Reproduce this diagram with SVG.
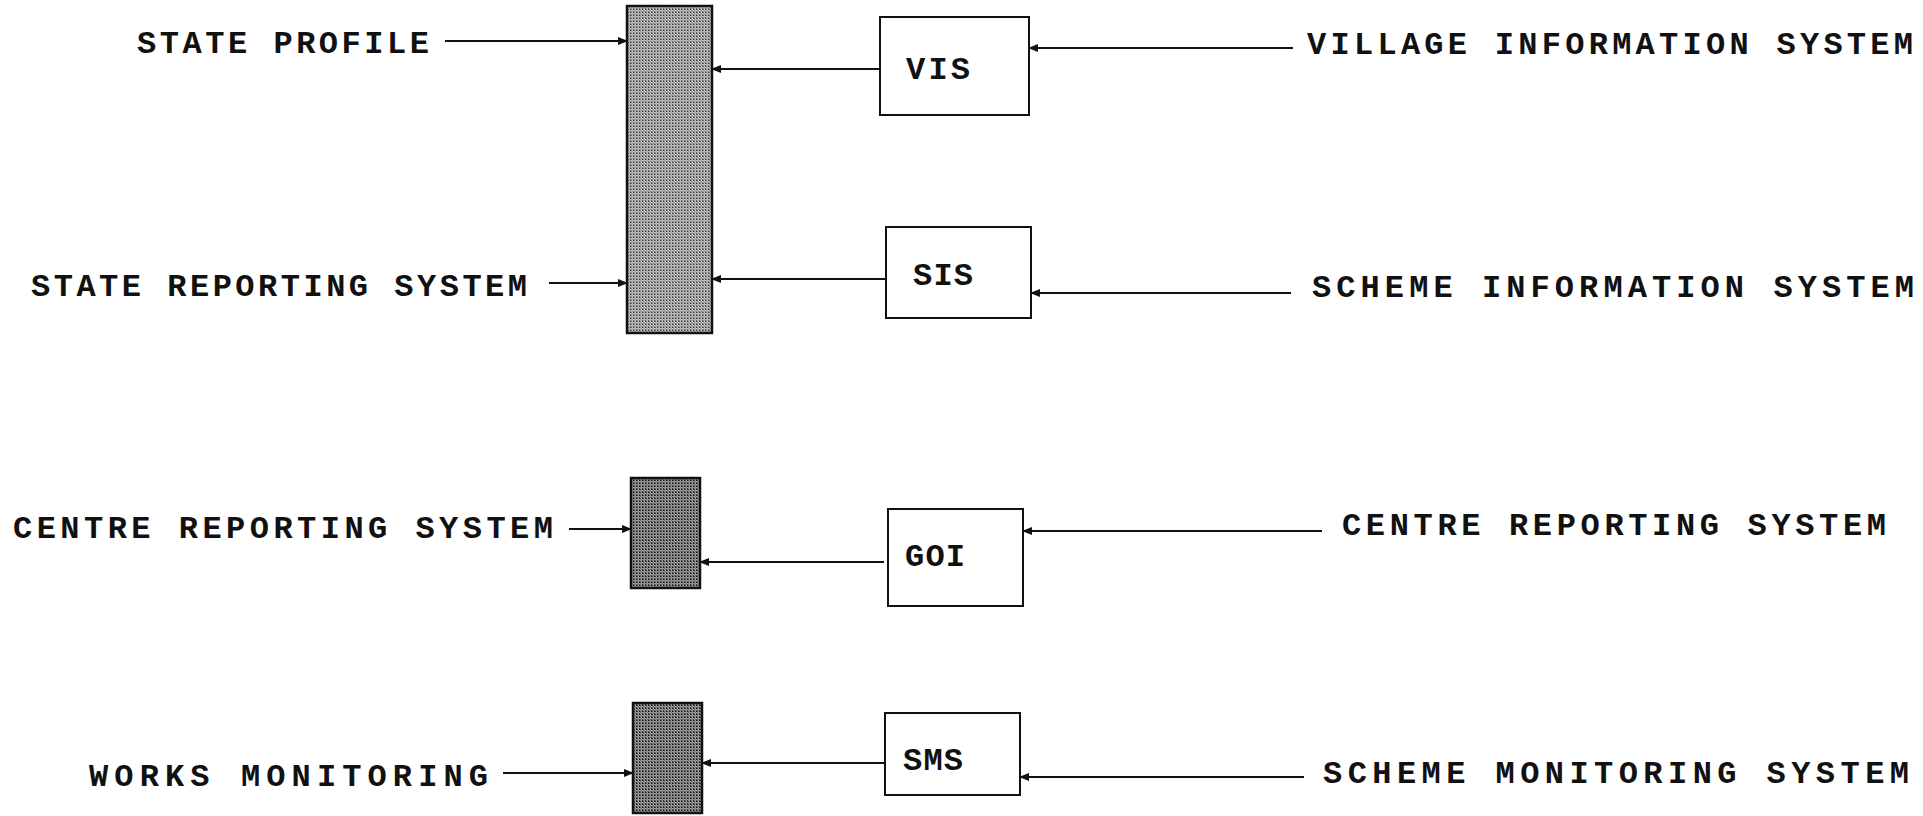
<svg xmlns="http://www.w3.org/2000/svg" width="1923" height="816" viewBox="0 0 1923 816">
<style>
.lbl{font-family:"Liberation Mono","Courier New",monospace;font-weight:bold;font-size:32px;fill:#111}
.blbl{font-family:"Liberation Mono","Courier New",monospace;font-weight:bold;font-size:32px;fill:#111}
.box{fill:#fff;stroke:#111;stroke-width:2}
.bar{stroke:#111;stroke-width:2.5}
.con line{stroke:#111;stroke-width:2}
</style>
<defs>
<pattern id="dotsL" width="3" height="3" patternUnits="userSpaceOnUse">
<rect width="3" height="3" fill="#d0d0d0"/>
<rect x="0" y="0" width="1" height="1" fill="#333"/>
<rect x="1.5" y="1.5" width="1" height="1" fill="#333"/>
<rect x="1" y="0" width="1" height="1" fill="#777"/>
<rect x="0" y="2" width="1" height="1" fill="#777"/>
</pattern>
<pattern id="dotsD" width="3" height="3" patternUnits="userSpaceOnUse">
<rect width="3" height="3" fill="#aaa"/>
<rect x="0" y="0" width="1" height="1" fill="#111"/>
<rect x="1.5" y="1.5" width="1" height="1" fill="#111"/>
<rect x="1" y="0" width="1" height="1" fill="#444"/>
<rect x="0" y="2" width="1" height="1" fill="#444"/>
</pattern>
<marker id="ah" markerWidth="10" markerHeight="8" refX="9" refY="4" orient="auto" markerUnits="userSpaceOnUse">
<path d="M0,0 L10,4 L0,8 Z" fill="#111"/>
</marker>
</defs>

<g id="bar-state"><rect class="bar" x="627" y="6" width="85" height="327" fill="url(#dotsL)"/></g>
<g id="bar-centre"><rect class="bar" x="631" y="478" width="69" height="110" fill="url(#dotsD)"/></g>
<g id="bar-works"><rect class="bar" x="633" y="703" width="69" height="110" fill="url(#dotsD)"/></g>

<g id="node-vis"><rect class="box" x="880" y="17" width="149" height="98"/><text class="blbl" x="906" y="79" textLength="64" lengthAdjust="spacing">VIS</text></g>
<g id="node-sis"><rect class="box" x="886" y="227" width="145" height="91"/><text class="blbl" x="913" y="285" textLength="60" lengthAdjust="spacing">SIS</text></g>
<g id="node-goi"><rect class="box" x="888" y="509" width="135" height="97"/><text class="blbl" x="905" y="566" textLength="60" lengthAdjust="spacing">GOI</text></g>
<g id="node-sms"><rect class="box" x="885" y="713" width="135" height="82"/><text class="blbl" x="903" y="770" textLength="60" lengthAdjust="spacing">SMS</text></g>

<g id="label-state-profile"><text class="lbl" x="137" y="53" textLength="292" lengthAdjust="spacing">STATE PROFILE</text></g>
<g id="label-state-reporting"><text class="lbl" x="31" y="296" textLength="496" lengthAdjust="spacing">STATE REPORTING SYSTEM</text></g>
<g id="label-centre-left"><text class="lbl" x="13" y="538" textLength="540" lengthAdjust="spacing">CENTRE REPORTING SYSTEM</text></g>
<g id="label-works"><text class="lbl" x="89" y="786" textLength="399" lengthAdjust="spacing">WORKS MONITORING</text></g>
<g id="label-village"><text class="lbl" x="1307" y="54" textLength="606" lengthAdjust="spacing">VILLAGE INFORMATION SYSTEM</text></g>
<g id="label-scheme-info"><text class="lbl" x="1312" y="297" textLength="602" lengthAdjust="spacing">SCHEME INFORMATION SYSTEM</text></g>
<g id="label-centre-right"><text class="lbl" x="1342" y="535" textLength="544" lengthAdjust="spacing">CENTRE REPORTING SYSTEM</text></g>
<g id="label-scheme-mon"><text class="lbl" x="1323" y="783" textLength="586" lengthAdjust="spacing">SCHEME MONITORING SYSTEM</text></g>

<g id="connectors" class="con">
<line x1="445" y1="41" x2="627" y2="41" marker-end="url(#ah)"/>
<line x1="549" y1="283" x2="627" y2="283" marker-end="url(#ah)"/>
<line x1="569" y1="529" x2="631" y2="529" marker-end="url(#ah)"/>
<line x1="503" y1="773" x2="633" y2="773" marker-end="url(#ah)"/>
<line x1="880" y1="69" x2="712" y2="69" marker-end="url(#ah)"/>
<line x1="886" y1="279" x2="712" y2="279" marker-end="url(#ah)"/>
<line x1="884" y1="562" x2="700" y2="562" marker-end="url(#ah)"/>
<line x1="885" y1="763" x2="702" y2="763" marker-end="url(#ah)"/>
<line x1="1293" y1="48" x2="1029" y2="48" marker-end="url(#ah)"/>
<line x1="1291" y1="293" x2="1031" y2="293" marker-end="url(#ah)"/>
<line x1="1322" y1="531" x2="1023" y2="531" marker-end="url(#ah)"/>
<line x1="1304" y1="777" x2="1020" y2="777" marker-end="url(#ah)"/>
</g>
</svg>
